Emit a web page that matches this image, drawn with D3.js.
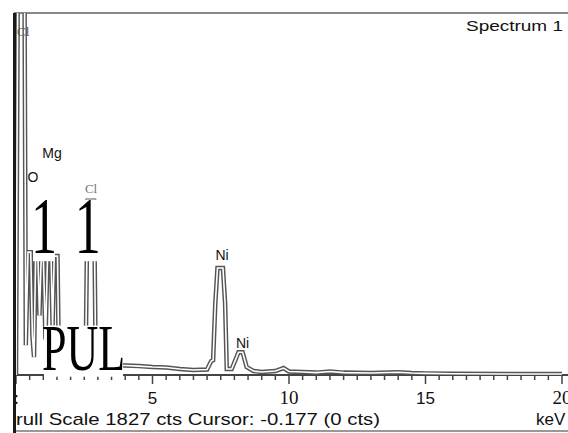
<!DOCTYPE html>
<html><head><meta charset="utf-8">
<script src="https://cdn.jsdelivr.net/npm/d3@7"></script>
<style>html,body{margin:0;padding:0;background:#fff;}svg{display:block;}</style>
</head><body>
<svg id="c" width="568" height="433"></svg>
<script>
// ---- data ----
const spectrumKeV = [0.00,0.08,0.30,0.36,0.44,0.54,0.60,0.66,0.72,0.80,0.86,0.92,1.00,1.08,1.16,1.28,1.34,1.40,1.52,1.56,1.62,1.75,2.00,2.40,2.55,2.62,2.86,2.92,3.50,4.00,4.50,5.00,5.50,6.00,6.50,7.00,7.15,7.22,7.30,7.38,7.58,7.66,7.72,7.90,8.05,8.15,8.30,8.45,8.70,9.00,9.50,9.80,10.00,10.50,11.00,11.50,12.00,13.00,14.00,14.50,15.00,16.00,18.00,20.00];
const spectrumCts = [0,2400,2400,150,620,620,200,90,610,610,300,580,600,180,620,620,250,600,600,180,110,70,60,55,60,880,880,60,50,48,45,40,38,30,25,28,70,75,360,540,540,360,30,30,80,115,115,40,20,15,20,35,18,15,12,18,12,10,14,10,8,6,5,5];
const xTickValues = [0,5,10,15,20];
const xTickLabels = [":","5","10","15","20"];
const peakLabels = [
  {text:"Mg", keV:1.32, cts:1095},
  {text:"O", keV:0.62, cts:975},
  {text:"Ni", keV:7.55, cts:580},
  {text:"Ni", keV:8.3, cts:136}
];
const fullScale = 1827;
const footerText = "rull Scale 1827 cts Cursor: -0.177  (0 cts)";
const unitText = "keV";
const titleText = "Spectrum 1";

// ---- scales ----
const svg = d3.select("#c");
const x = d3.scaleLinear().domain([0,20]).range([16,562]);
const y = d3.scaleLinear().domain([0,fullScale]).range([375,13]);

svg.append("defs").append("clipPath").attr("id","plot")
  .append("rect").attr("x",14).attr("y",13).attr("width",560).attr("height",362);

// frame
svg.append("line").attr("x1",14).attr("x2",568).attr("y1",13).attr("y2",13)
  .attr("stroke","#888").attr("stroke-width",2);
svg.append("line").attr("x1",14).attr("x2",568).attr("y1",431).attr("y2",431)
  .attr("stroke","#999").attr("stroke-width",2);

// axis
const axisG = svg.append("g").attr("transform","translate(0,375)");
const minorTicks = d3.range(0,20.01,0.5);
axisG.append("line").attr("x1",14).attr("x2",568).attr("stroke","#444").attr("stroke-width",2);
axisG.selectAll("line.tk").data(minorTicks).join("line").attr("class","tk")
  .attr("x1",d=>x(d)).attr("x2",d=>x(d)).attr("y1",0)
  .attr("y2",d=>d%5===0?9:5).attr("stroke","#444").attr("stroke-width",1.5);
const labG = svg.append("g");
labG.selectAll("text").data(xTickValues).join("text")
  .attr("x",d=>x(d)).attr("y",404).attr("text-anchor","middle")
  .attr("font-family",(d,i)=> (i===2||i===4)?"Liberation Serif, serif":"Liberation Sans, Arial, sans-serif")
  .attr("font-size",(d,i)=> (i===2||i===4)?19:17)
  .attr("font-weight",(d,i)=>i===0?"bold":"normal")
  .attr("fill","#111")
  .text((d,i)=>xTickLabels[i]);

// spectrum
const pts = spectrumKeV.map((k,i)=>[k,spectrumCts[i]]);
const line = d3.line().x(d=>x(d[0])).y(d=>y(d[1]));
const sg = svg.append("g").attr("clip-path","url(#plot)");
sg.append("path").datum(pts).attr("d",line).attr("fill","none")
  .attr("stroke","#555").attr("stroke-width",4.5).attr("stroke-linejoin","miter");
sg.append("path").datum(pts).attr("d",line).attr("fill","none")
  .attr("stroke","#fff").attr("stroke-width",1.6);

// left frame line
svg.append("line").attr("x1",14.5).attr("x2",14.5).attr("y1",13).attr("y2",433)
  .attr("stroke","#1a1a1a").attr("stroke-width",3);

// labels
svg.append("text").attr("x",563).attr("y",31).attr("text-anchor","end")
  .attr("font-family","Liberation Sans, Arial, sans-serif").attr("font-size",15.5)
  .attr("textLength",97).attr("lengthAdjust","spacingAndGlyphs").attr("fill","#111").text(titleText);

// "Cl" remnants
svg.append("text").attr("x",17).attr("y",36).attr("font-family","Liberation Serif, serif")
  .attr("font-size",13).attr("fill","#555").text("Cl");

// big serif artifacts with white backing
const big = svg.append("g").attr("font-family","Liberation Serif, Times New Roman, serif").attr("fill","#000");
function bigText(tx, ty, size, str, len){
  const t = big.append("text").attr("x",tx).attr("y",ty).attr("font-size",size).text(str);
  if (len) t.attr("textLength",len).attr("lengthAdjust","spacingAndGlyphs");
  const bb = t.node().getBBox();
  big.insert("rect","text").attr("x",bb.x+2).attr("y",bb.y+bb.height*0.2)
    .attr("width",bb.width-4).attr("height",bb.height*0.7).attr("fill","#fff");
  return t;
}
bigText(x(0.55), 253, 80, "1", 26);
bigText(x(2.15), 253, 80, "1", 26);
bigText(42, 370, 66, "PUL", 83);

svg.append("text").attr("x",x(2.75)).attr("y",193).attr("text-anchor","middle")
  .attr("font-family","Liberation Serif, serif").attr("font-size",13).attr("fill","#777").text("Cl");

svg.selectAll("text.pk").data(peakLabels).join("text").attr("class","pk")
  .attr("x",d=>x(d.keV)).attr("y",d=>y(d.cts)).attr("text-anchor","middle")
  .attr("font-family","Liberation Sans, Arial, sans-serif").attr("font-size",14).attr("fill","#111")
  .text(d=>d.text);

// footer
svg.append("text").attr("x",16).attr("y",425)
  .attr("font-family","Liberation Sans, Arial, sans-serif").attr("font-size",17)
  .attr("textLength",364).attr("lengthAdjust","spacingAndGlyphs").attr("fill","#111").text(footerText);
svg.append("text").attr("x",536).attr("y",425)
  .attr("font-family","Liberation Sans, Arial, sans-serif").attr("font-size",17).attr("fill","#111").text(unitText);
</script>
</body></html>
